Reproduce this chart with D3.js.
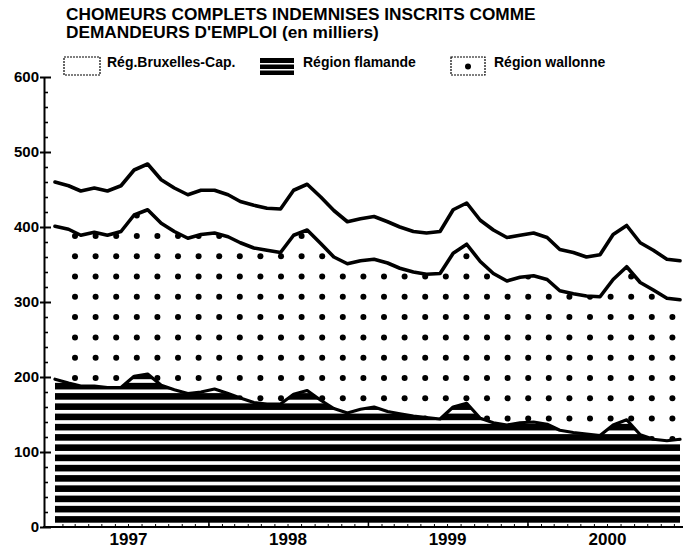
<!DOCTYPE html>
<html><head><meta charset="utf-8">
<script src="https://cdn.jsdelivr.net/npm/d3@7/dist/d3.min.js"></script>
<style>body{margin:0;background:#fff}svg{display:block}</style>
</head><body>
<svg id="c" width="685" height="550"></svg>
<script>
const months = ["1997-01","1997-02","1997-03","1997-04","1997-05","1997-06","1997-07","1997-08","1997-09","1997-10","1997-11","1997-12",
"1998-01","1998-02","1998-03","1998-04","1998-05","1998-06","1998-07","1998-08","1998-09","1998-10","1998-11","1998-12",
"1999-01","1999-02","1999-03","1999-04","1999-05","1999-06","1999-07","1999-08","1999-09","1999-10","1999-11","1999-12",
"2000-01","2000-02","2000-03","2000-04","2000-05","2000-06","2000-07","2000-08","2000-09","2000-10","2000-11","2000-12"];
const flamande = [197,192,188,188,186,186,201,204,189,183,178,180, 184,178,172,166,164,164,177,182,169,158,152,157, 160,154,151,148,146,144,160,165,145,139,136,139, 140,137,129,126,124,122,136,143,123,117,115,117];
const wallonne = [204,205,201,205,203,208,215,219,216,211,207,210, 208,209,207,206,205,202,212,214,209,202,199,198, 197,198,194,192,191,194,205,212,209,199,192,194, 195,193,186,185,184,185,194,204,203,199,190,186];
const bruxelles = [59,58,59,59,59,61,60,61,58,58,58,59, 57,56,55,57,56,58,60,61,62,62,56,56, 57,55,55,54,55,56,58,55,55,58,58,56, 57,56,55,55,52,56,60,55,53,53,52,52];
const yTicks = [0,100,200,300,400,500,600];
const yearLabels = ["1997","1998","1999","2000"];
const legendLabels = ["Rég.Bruxelles-Cap.","Région flamande","Région wallonne"];
const titleLines = ["CHOMEURS COMPLETS INDEMNISES INSCRITS COMME","DEMANDEURS D'EMPLOI (en milliers)"];

const FONT = "'Liberation Sans', Arial, Helvetica, sans-serif";
const svg = d3.select("#c");
const parse = d3.timeParse("%Y-%m-%d");
const dates = months.map(m => parse(m + "-15"));
const x = d3.scaleTime().domain([dates[0], dates[dates.length - 1]]).range([55, 680]);
const y = d3.scaleLinear().domain([0, 600]).range([527, 77]);

const rows = dates.map((d, i) => ({date: d, flamande: flamande[i], wallonne: wallonne[i], bruxelles: bruxelles[i]}));
const series = d3.stack().keys(["flamande", "wallonne", "bruxelles"])(rows);
const area = d3.area().x((d, i) => x(dates[i])).y0(d => y(d[0])).y1(d => y(d[1]));
const line = d3.line().x((d, i) => x(dates[i])).y(d => y(d[1]));

const defs = svg.append("defs");
defs.append("clipPath").attr("id", "clipF").append("path").attr("d", area(series[0]));
defs.append("clipPath").attr("id", "clipW").append("path").attr("d", area(series[1]));

// Stripes texture for Région flamande
const gF = svg.append("g").attr("clip-path", "url(#clipF)");
for (let yb = 522.7; yb > 60; yb -= 10.25) {
  gF.append("rect").attr("x", 50).attr("width", 640).attr("y", yb - 6.6).attr("height", 6.6).attr("fill", "#000");
}
// Dot texture for Région wallonne
const gW = svg.append("g").attr("clip-path", "url(#clipW)");
for (let cx = 75; cx < 700; cx += 20.6) {
  for (let cy = 378 - 20.3 * 12; cy < 530; cy += 20.3) {
    gW.append("circle").attr("cx", cx).attr("cy", cy).attr("r", 3).attr("fill", "#000");
  }
}
// Boundary lines
series.forEach((s, k) => {
  svg.append("path").attr("d", line(s)).attr("fill", "none").attr("stroke", "#000")
    .attr("stroke-width", k === 0 ? 3.2 : 3.6).attr("stroke-linejoin", "round").attr("stroke-linecap", "round");
});

// Y axis
const gY = svg.append("g").attr("transform", "translate(44,0)")
  .call(d3.axisLeft(y).tickValues(yTicks).tickSizeInner(4).tickSizeOuter(0).tickPadding(1));
gY.select(".domain").attr("stroke-width", 2);
gY.selectAll(".tick line").attr("x1", 7).attr("stroke-width", 2);
gY.selectAll(".tick text").attr("font-family", FONT).attr("font-size", 15).attr("font-weight", "bold").attr("fill", "#000");
const minor = d3.range(0, 601, 20).filter(v => v % 100 !== 0);
const gYm = svg.append("g").attr("transform", "translate(44,0)")
  .call(d3.axisLeft(y).tickValues(minor).tickSizeInner(-4).tickSizeOuter(0).tickFormat(""));
gYm.select(".domain").remove();
gYm.selectAll(".tick line").attr("stroke-width", 1.6);

// X axis
svg.append("line").attr("x1", 43).attr("x2", 683).attr("y1", 527).attr("y2", 527).attr("stroke", "#000").attr("stroke-width", 2);
const monthTicks = d3.timeMonth.range(parse("1997-02-01"), parse("2001-01-01"));
const gXm = svg.append("g").attr("transform", "translate(0,527)")
  .call(d3.axisBottom(x).tickValues(monthTicks).tickSizeInner(-3).tickSizeOuter(0).tickFormat(""));
gXm.select(".domain").remove();
gXm.selectAll(".tick line").attr("stroke-width", 1);
const yearStarts = yearLabels.slice(1).map(yv => parse(yv + "-01-01"));
const gXy = svg.append("g").attr("transform", "translate(0,527)")
  .call(d3.axisBottom(x).tickValues(yearStarts).tickSizeInner(-5).tickSizeOuter(0).tickFormat(""));
gXy.select(".domain").remove();
gXy.selectAll(".tick line").attr("stroke-width", 1.5);
const yearMids = yearLabels.map(yv => parse(yv + "-07-01"));
const gXl = svg.append("g").attr("transform", "translate(0,527)")
  .call(d3.axisBottom(x).tickValues(yearMids).tickSize(0).tickPadding(6).tickFormat(d3.timeFormat("%Y")));
gXl.select(".domain").remove();
gXl.selectAll(".tick text").attr("font-family", FONT).attr("font-size", 17).attr("font-weight", "bold").attr("fill", "#000");

// Title (font size fitted so the first line spans the reference width)
const t1 = svg.append("text").attr("x", 66).attr("y", 20).text(titleLines[0])
  .attr("font-family", FONT).attr("font-size", 16).attr("font-weight", "bold");
const fs = 16 * 470 / t1.node().getComputedTextLength();
t1.attr("font-size", fs);
svg.append("text").attr("x", 66).attr("y", 38).text(titleLines[1])
  .attr("font-family", FONT).attr("font-size", fs).attr("font-weight", "bold");

// Legend
const lg = svg.append("g");
lg.append("rect").attr("x", 64).attr("y", 57).attr("width", 36).attr("height", 18)
  .attr("fill", "#fff").attr("stroke", "#000").attr("stroke-width", 1.2).attr("stroke-dasharray", "2,1");
[[58, 63], [64.5, 69], [70.5, 75]].forEach(b => {
  lg.append("rect").attr("x", 260).attr("y", b[0]).attr("width", 34).attr("height", b[1] - b[0]).attr("fill", "#000");
});
lg.append("rect").attr("x", 451).attr("y", 57).attr("width", 34).attr("height", 18)
  .attr("fill", "#fff").attr("stroke", "#000").attr("stroke-width", 1.2).attr("stroke-dasharray", "2,1");
lg.append("circle").attr("cx", 468).attr("cy", 66.5).attr("r", 3).attr("fill", "#000");
const legX = [107, 303, 494];
legendLabels.forEach((t, i) => {
  lg.append("text").attr("x", legX[i]).attr("y", 67).text(t)
    .attr("font-family", FONT).attr("font-size", 14).attr("font-weight", "bold");
});
</script>
</body></html>
